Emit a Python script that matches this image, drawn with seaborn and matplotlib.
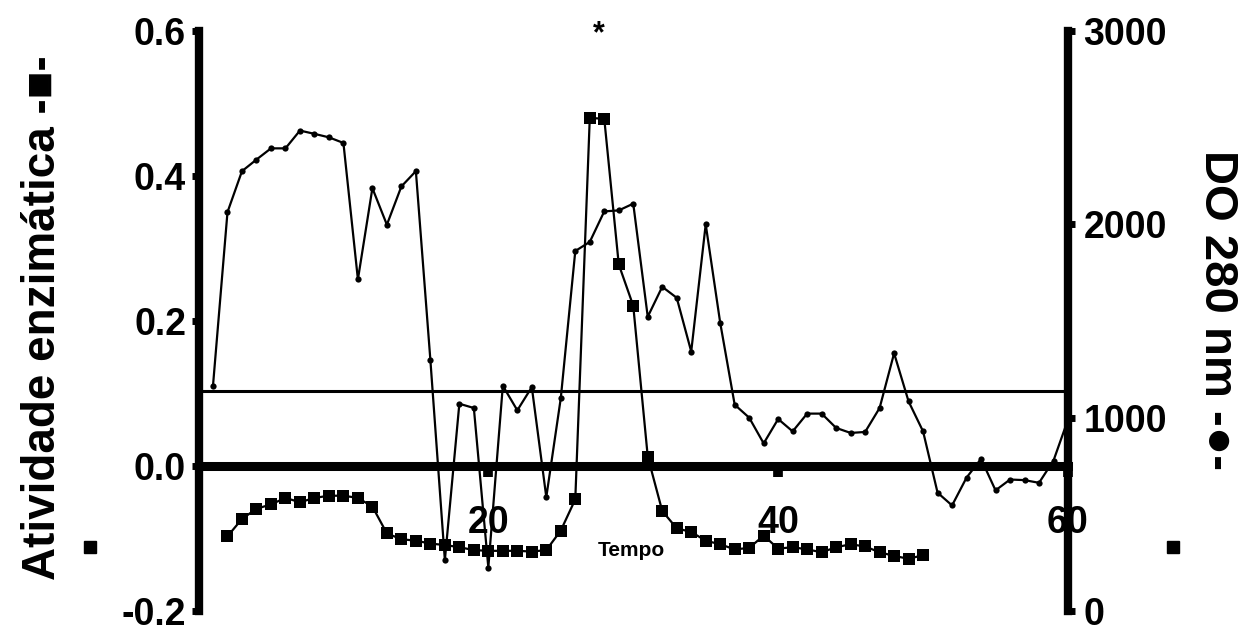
import matplotlib
matplotlib.use("Agg")
import matplotlib.pyplot as plt
from matplotlib.lines import Line2D
from matplotlib.ticker import MultipleLocator
import seaborn as sns

# ---- data ----
tempo_do = list(range(1, 61))
do280 = [1165, 2063, 2275, 2335, 2393, 2393, 2485, 2468, 2450, 2421,
         1715, 2187, 1998, 2196, 2275, 1299, 263, 1072, 1050, 225,
         1165, 1038, 1158, 589, 1101, 1862, 1909, 2067, 2072, 2107,
         1522, 1677, 1620, 1342, 2000, 1491, 1067, 1000, 867, 993,
         929, 1021, 1021, 947, 921, 926, 1050, 1333, 1084, 929,
         612, 546, 690, 787, 624, 680, 677, 663, 778, 990]

tempo_ativ = list(range(2, 51))
atividade = [-0.097, -0.073, -0.059, -0.053, -0.044, -0.050, -0.044, -0.041, -0.041,
             -0.044, -0.056, -0.093, -0.101, -0.103, -0.107, -0.109, -0.112, -0.116,
             -0.117, -0.117, -0.117, -0.118, -0.116, -0.089, -0.046, 0.480, 0.479,
             0.278, 0.221, 0.013, -0.062, -0.086, -0.091, -0.103, -0.108, -0.115,
             -0.113, -0.096, -0.114, -0.112, -0.115, -0.119, -0.112, -0.108, -0.111,
             -0.119, -0.124, -0.128, -0.123]

limiar = 0.103
xticks = [20, 40, 60]
xticklabels = ["20", "40", "60"]
left_ticks = [-0.2, 0.0, 0.2, 0.4, 0.6]
left_ticklabels = ["-0.2", "0.0", "0.2", "0.4", "0.6"]
right_ticks = [0, 1000, 2000, 3000]
right_ticklabels = ["0", "1000", "2000", "3000"]

# ---- style ----
sns.set_style("ticks")
plt.rcParams['font.family'] = ['Liberation Sans', 'DejaVu Sans']
plt.rcParams['font.weight'] = 'bold'
plt.rcParams['axes.labelweight'] = 'bold'
plt.rcParams['axes.unicode_minus'] = False
for k in ['axes.edgecolor', 'text.color', 'xtick.color', 'ytick.color',
          'axes.labelcolor', 'xtick.labelcolor', 'ytick.labelcolor']:
    plt.rcParams[k] = 'black'

W, H = 1256, 631
fig = plt.figure(figsize=(W / 100, H / 100), dpi=100)
left_px, right_px, top_px, bot_px = 198.5, 1068, 31, 611
ax = fig.add_axes([left_px / W, 1 - bot_px / H, (right_px - left_px) / W, (bot_px - top_px) / H])
ax.set_xlim(0, 60)
ax.set_ylim(-0.2, 0.6)
ax.patch.set_visible(False)

ax2 = ax.twinx()
ax2.set_ylim(0, 3000)

# threshold line
ax.axhline(limiar, color='black', lw=2.2, zorder=2)

# enzymatic activity (squares) on the left axis
sns.lineplot(x=tempo_ativ, y=atividade, ax=ax, color='black', marker='s',
             markersize=8.5, markeredgewidth=0, linewidth=1.6, zorder=3)

# DO 280 nm (dots) on the right axis
sns.lineplot(x=tempo_do, y=do280, ax=ax2, color='black', marker='o',
             markersize=4.5, markeredgewidth=0, linewidth=1.6, zorder=3)

# ---- spines ----
for s in ['top', 'right']:
    ax.spines[s].set_visible(False)
ax.spines['left'].set_linewidth(6)
ax.spines['left'].set_color('black')
ax.spines['bottom'].set_position(('data', 0))
ax.spines['bottom'].set_linewidth(6.5)
ax.spines['bottom'].set_color('black')
for s in ['top', 'left', 'bottom']:
    ax2.spines[s].set_visible(False)
ax2.spines['right'].set_linewidth(6)
ax2.spines['right'].set_color('black')

# ---- ticks ----
ax.set_xticks(xticks)
ax.set_xticklabels(xticklabels)
ax.xaxis.set_minor_locator(MultipleLocator(2))
ax.tick_params(axis='x', which='major', direction='out', length=8, width=7,
               pad=20, labelsize=27, color='black')
ax.tick_params(axis='x', which='minor', direction='out', length=3, width=1,
               color='#c8c8c8')
ax.set_yticks(left_ticks)
ax.set_yticklabels(left_ticklabels)
ax.tick_params(axis='y', direction='out', length=5, width=5, pad=4, labelsize=27,
               color='black')

ax2.set_yticks(right_ticks)
ax2.set_yticklabels(right_ticklabels)
ax2.tick_params(axis='y', direction='out', length=5, width=5, pad=6, labelsize=27,
                color='black')

# ---- labels ----
ax.set_ylabel('Atividade enzimática -■-', fontsize=33, va='center', fontweight='bold')
ax.yaxis.set_label_coords((43 - left_px) / (right_px - left_px), 0.506)
ax2.set_ylabel('DO 280 nm -●-', fontsize=34, rotation=270, va='center', fontweight='bold')
ax2.yaxis.set_label_coords((1217 - left_px) / (right_px - left_px), 0.519)
ax.set_xlabel('Tempo', fontsize=15, va='center', fontweight='bold')
ax.xaxis.set_label_coords((631 - left_px) / (right_px - left_px), (bot_px - 550) / (bot_px - top_px))

ax.text(27.6, 0.596, '*', ha='center', va='center', fontsize=22, clip_on=False)

# stray square marks at the sides
for px in (90, 1173):
    fig.add_artist(Line2D([px / W], [1 - 547 / H], marker='s', markersize=9,
                          color='black', linestyle='none', transform=fig.transFigure))

fig.savefig('out.png', dpi=100)
